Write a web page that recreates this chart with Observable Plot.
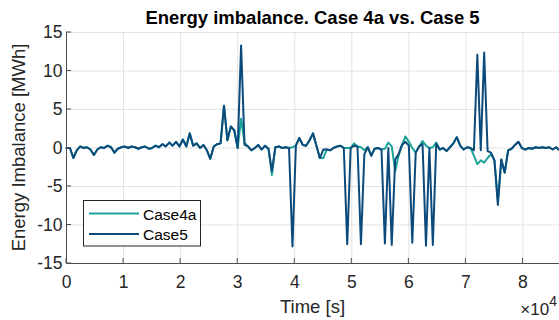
<!DOCTYPE html>
<html><head><meta charset="utf-8">
<script src="https://cdn.jsdelivr.net/npm/d3@7"></script>
<script src="https://cdn.jsdelivr.net/npm/@observablehq/plot@0.6"></script>
<style>
body{margin:0;background:#fff;}
#chart svg{display:block;}
</style></head><body><div id="chart"></div>
<script>
// sampling step of the series, seconds
const stepSeconds = 600;

const case4a = [
 0,0,-1.3,-0.3,0.2,0,0.1,-0.2,-0.9,-0.2,
 0.1,0,0.3,0.1,-0.6,-0.1,0.1,0.2,0,0.2,
 0.1,-0.1,0.1,0.2,-0.1,0,0.3,0.1,0.5,0.2,
 0.7,0.3,0.8,0.2,1.1,0.2,1.9,0.3,0.6,0,
 0.4,-0.3,-1.4,0.2,0.5,0.6,5.5,1.0,2.8,2.3,
 0,3.8,0.7,0.2,-0.3,0,0.4,-0.2,0.3,-0.1,
 -3.5,0.1,0.2,0,0.1,0,0.1,0.3,1.3,0.4,
 0.3,1.0,1.9,0.3,-1.3,-1.3,-0.2,-0.3,0,0.2,
 0.3,0,0.0,0,0.6,0.2,0.1,-0.3,0.1,-1.0,
 -0.1,0,-0.2,-0.1,0.7,0.2,-3.0,-1.0,0.4,1.5,
 0.8,0.0,-0.6,0.2,0.9,0.3,0,0.1,0.7,-0.2,
 0,-0.4,0.1,0.6,1.4,0.3,-0.2,0.1,0,-1.0,
 -2.1,-1.6,-1.9,-1.3,-0.8,-1.6,-6.8,-1.5,-3.2,-0.3,
 -0.1,0.4,0.8,0,-0.2,0,-0.1,0.1,0,0.1,
 0,0.1,-0.2,0.1,-0.3
];

const case5 = [
 0,0,-1.3,-0.3,0.2,0,0.1,-0.2,-0.9,-0.2,
 0.1,0,0.3,0.1,-0.6,-0.1,0.1,0.2,0,0.2,
 0.1,-0.1,0.1,0.2,-0.1,0,0.3,0.1,0.5,0.2,
 0.7,0.3,0.8,0.2,1.1,0.2,1.9,0.3,0.6,0,
 0.4,-0.3,-1.4,0.2,0.5,0.6,5.5,1.0,2.8,2.3,
 0,13.3,0.4,0.2,-0.3,0,0.4,-0.2,0.3,-0.1,
 -3.0,0.1,0.2,0,0.1,0,-12.8,0.3,1.3,0.4,
 0.3,1.0,1.9,0.3,-1.3,-0.2,-0.2,-0.3,0,0.2,
 0.3,0,-12.5,0,0.3,0.2,-12.5,-0.8,0.1,-1.0,
 -0.1,0,-0.2,-12.4,0,-12.6,-1.5,-0.8,0.4,0.8,
 0.3,-12.3,-0.6,0.2,0.5,-12.7,0,-12.6,0.6,-0.2,
 0,-0.4,0.1,0.6,1.4,0.3,-0.2,0.1,0,-0.3,
 12.1,-0.3,12.4,-0.4,-0.6,-1.6,-7.4,-1.5,-3.2,-0.3,
 -0.1,0.4,0.8,0,-0.2,0,-0.1,0.1,0,0.1,
 0,0.1,-0.2,0.1,-0.3
];

const xTicks = [0,10000,20000,30000,40000,50000,60000,70000,80000];
const yTicks = [-15,-10,-5,0,5,10,15];
const xDomain = [0,86400];
const yDomain = [-15,15];
const seriesNames = ["Case4a","Case5"];
const seriesColors = ["#1aa398","#0c4a7c"];
const titleText = "Energy imbalance. Case 4a vs. Case 5";
const xLabel = "Time [s]";
const yLabel = "Energy Imbalance [MWh]";

const rows4a = case4a.map((v,i)=>({t:i*stepSeconds, v}));
const rows5 = case5.map((v,i)=>({t:i*stepSeconds, v}));

const font = "'Liberation Sans', Arial, Helvetica, sans-serif";
const axisColor = "#4d4d4d";
const textColor = "#262626";

const chart = Plot.plot({
  width:559, height:320,
  marginLeft:66, marginRight:0, marginTop:32, marginBottom:57,
  style:{fontFamily:font, fontSize:"17.5px", color:textColor, background:"#fff", overflow:"visible"},
  x:{domain:xDomain},
  y:{domain:yDomain},
  marks:[
    Plot.gridX(xTicks,{stroke:"#e2e2e2", strokeOpacity:1}),
    Plot.gridY(yTicks,{stroke:"#e2e2e2", strokeOpacity:1}),
    Plot.line(rows4a,{x:"t", y:"v", stroke:seriesColors[0], strokeWidth:2}),
    Plot.line(rows5,{x:"t", y:"v", stroke:seriesColors[1], strokeWidth:2}),
    Plot.ruleX([xDomain[0]],{stroke:axisColor, strokeWidth:1}),
    Plot.ruleY([yDomain[0]],{stroke:axisColor, strokeWidth:1}),
    Plot.axisX(xTicks,{tickSize:0, tickPadding:12, tickFormat:d=>String(d/1e4), label:null, fill:textColor, fontSize:17.5}),
    Plot.axisY(yTicks,{tickSize:0, tickPadding:4, tickFormat:d=>String(d), label:null, fill:textColor, fontSize:17.5})
  ]
});
document.getElementById("chart").appendChild(chart);

const sx = chart.scale("x"), sy = chart.scale("y");
const svg = d3.select(chart);
const x0 = sx.apply(xDomain[0]), y0 = sy.apply(yDomain[0]);
const xr = sx.apply(xDomain[1]), yt = sy.apply(yDomain[1]);
const g = svg.append("g").attr("text-anchor","start");
// inward ticks (MATLAB style)
xTicks.forEach(v=>{
  const x = sx.apply(v);
  g.append("line").attr("x1",x).attr("x2",x).attr("y1",y0).attr("y2",y0-5).attr("stroke",axisColor);
});
yTicks.forEach(v=>{
  const y = sy.apply(v);
  g.append("line").attr("x1",x0).attr("x2",x0+5).attr("y1",y).attr("y2",y).attr("stroke",axisColor);
});
const cx = (x0+xr)/2, cy = (y0+yt)/2;
// title
g.append("text").attr("x",cx).attr("y",24).attr("text-anchor","middle")
  .attr("font-family",font).attr("font-size",18.5).attr("font-weight","bold").attr("fill","#000").text(titleText);
// y label
g.append("text").attr("transform",`translate(25,${cy}) rotate(-90)`).attr("text-anchor","middle")
  .attr("font-family",font).attr("font-size",18.5).attr("fill",textColor).text(yLabel);
// x label
g.append("text").attr("x",cx).attr("y",313).attr("text-anchor","middle")
  .attr("font-family",font).attr("font-size",18.5).attr("fill",textColor).text(xLabel);
// exponent
const ex = g.append("text").attr("x",557).attr("y",315).attr("text-anchor","end")
  .attr("font-family",font).attr("font-size",17).attr("fill",textColor);
ex.append("tspan").text("×10");
ex.append("tspan").attr("dy",-9).attr("font-size",14).text("4");
// legend
const lg = g.append("g");
lg.append("rect").attr("x",83.5).attr("y",200.5).attr("width",117).attr("height",45.5)
  .attr("fill","#fff").attr("stroke","#262626").attr("stroke-width",1);
seriesNames.forEach((name,i)=>{
  const ly = 213.5 + i*20.5;
  lg.append("line").attr("x1",89).attr("x2",139).attr("y1",ly).attr("y2",ly)
    .attr("stroke",seriesColors[i]).attr("stroke-width",2);
  lg.append("text").attr("x",143).attr("y",ly+6).attr("text-anchor","start").attr("font-family",font).attr("font-size",15.5)
    .attr("fill","#000").text(name);
});
</script></body></html>
